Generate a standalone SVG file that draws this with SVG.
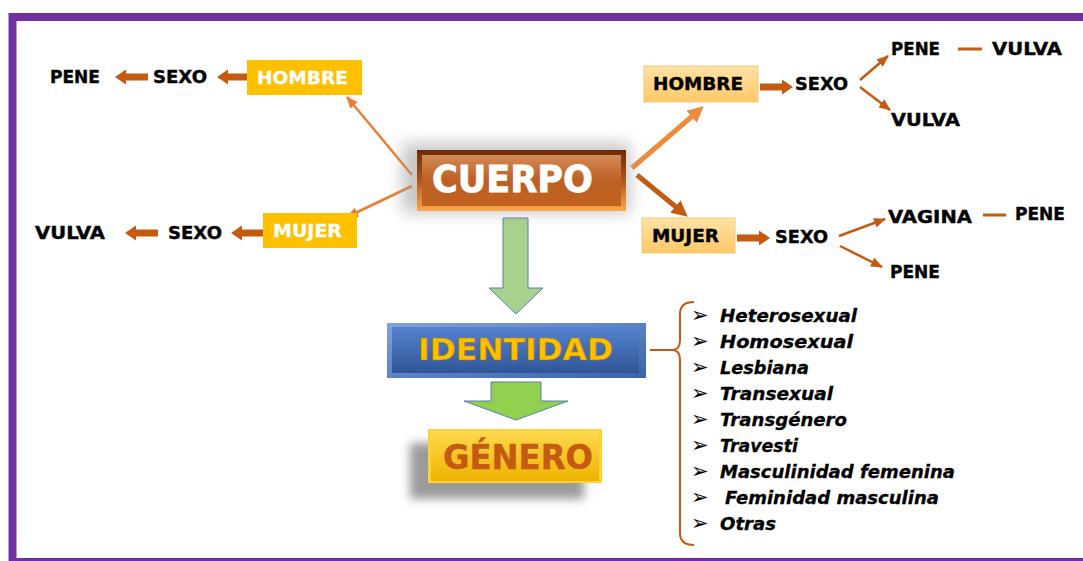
<svg xmlns="http://www.w3.org/2000/svg" xmlns:xlink="http://www.w3.org/1999/xlink" width="1083" height="561" viewBox="0 0 1083 561">
<style>
.lbl{font-family:"DejaVu Sans","Liberation Sans",sans-serif;font-weight:bold;font-size:18px;fill:#000;stroke:#000;stroke-width:0.4}
.wlbl{font-family:"DejaVu Sans","Liberation Sans",sans-serif;font-weight:bold;font-size:18px;fill:#fff;stroke:#fff;stroke-width:0.3}
.item{font-family:"DejaVu Sans","Liberation Sans",sans-serif;font-weight:bold;font-style:italic;font-size:18px;fill:#000;stroke:#000;stroke-width:0.3}
.bul{font-family:"DejaVu Sans",sans-serif;font-size:21px;fill:#000}
.thinO{stroke:#ED7D31;stroke-width:2.5;fill:none;marker-end:url(#headO)}
.thinB{stroke:#C55A11;stroke-width:2.5;fill:none;marker-end:url(#headB)}
.dash{stroke:#C55A11;stroke-width:3}
.blk{fill:#C55A11}
</style>
<defs>
<marker id="headO" markerUnits="userSpaceOnUse" markerWidth="12" markerHeight="10" refX="11" refY="5" orient="auto"><path d="M0,0 L12,5 L0,10 z" fill="#ED7D31"/></marker>
<marker id="headB" markerUnits="userSpaceOnUse" markerWidth="12" markerHeight="10" refX="11" refY="5" orient="auto"><path d="M0,0 L12,5 L0,10 z" fill="#C55A11"/></marker>
<marker id="bigO" markerUnits="userSpaceOnUse" markerWidth="16" markerHeight="16" refX="9" refY="8" orient="auto"><path d="M0,0 L16,8 L0,16 z" fill="#F08A3C"/></marker>
<marker id="bigB" markerUnits="userSpaceOnUse" markerWidth="16" markerHeight="16" refX="9" refY="8" orient="auto"><path d="M0,0 L16,8 L0,16 z" fill="#C55A11"/></marker>
<path id="barr" d="M0,-3.5 H22 V-7.5 L33,0 L22,7.5 V3.5 H0 Z"/>
<linearGradient id="gCuerpoOut" x1="0" y1="0" x2="0" y2="1"><stop offset="0" stop-color="#6A2B08"/><stop offset="0.5" stop-color="#B0561A"/><stop offset="1" stop-color="#FBA94E"/></linearGradient>
<linearGradient id="gCuerpoIn" x1="0" y1="0" x2="0" y2="1"><stop offset="0" stop-color="#D38A55"/><stop offset="0.5" stop-color="#BD6024"/><stop offset="1" stop-color="#C2621F"/></linearGradient>
<linearGradient id="gIdOut" x1="0" y1="0" x2="1" y2="1"><stop offset="0" stop-color="#7EA3DE"/><stop offset="1" stop-color="#3A63A8"/></linearGradient>
<linearGradient id="gIdIn" x1="0" y1="0" x2="0" y2="1"><stop offset="0" stop-color="#5583CF"/><stop offset="1" stop-color="#2F5597"/></linearGradient>
<linearGradient id="gGen" x1="0" y1="0" x2="0" y2="1"><stop offset="0" stop-color="#FFD84E"/><stop offset="1" stop-color="#EDB300"/></linearGradient>
<linearGradient id="gBox" x1="0" y1="0" x2="0" y2="1"><stop offset="0" stop-color="#FFE2A6"/><stop offset="1" stop-color="#FFC868"/></linearGradient>
<filter id="blur8" x="-30%" y="-50%" width="160%" height="200%"><feGaussianBlur stdDeviation="8"/></filter>
<filter id="blur5" x="-30%" y="-50%" width="160%" height="200%"><feGaussianBlur stdDeviation="5"/></filter>
</defs>

<rect x="12.5" y="17" width="1100" height="545" fill="#fff" stroke="#7030A0" stroke-width="8"/>

<g id="connectors">
  <line class="thinO" x1="412" y1="175" x2="347" y2="97"/>
  <line class="thinO" x1="412" y1="186" x2="347" y2="217"/>
  <line x1="632" y1="168" x2="698.4" y2="110.9" stroke="#F08A3C" stroke-width="5" marker-end="url(#bigO)"/>
  <line x1="637" y1="175" x2="682.4" y2="212.2" stroke="#C55A11" stroke-width="5" marker-end="url(#bigB)"/>
  <use href="#barr" class="blk" transform="translate(250,77) scale(-1,1)"/>
  <use href="#barr" class="blk" transform="translate(148,77) scale(-1,1)"/>
  <use href="#barr" class="blk" transform="translate(264,233) scale(-1,1)"/>
  <use href="#barr" class="blk" transform="translate(158,233) scale(-1,1)"/>
  <use href="#barr" class="blk" transform="translate(760,87)"/>
  <use href="#barr" class="blk" transform="translate(737,238)"/>
  <line class="thinB" x1="860" y1="80" x2="888" y2="56"/>
  <line class="thinB" x1="860" y1="87" x2="890" y2="110"/>
  <line class="thinB" x1="839" y1="236" x2="885" y2="219"/>
  <line class="thinB" x1="840" y1="246" x2="882" y2="267"/>
  <line class="dash" x1="958" y1="49" x2="982" y2="49"/>
  <line class="dash" x1="983" y1="215" x2="1006" y2="215"/>
  <polygon points="503,218 528,218 528,288 543,288 516,314 489,288 503,288" fill="#A9D18E" stroke="#5B7DB5" stroke-width="1"/>
  <polygon points="491,382 541,382 541,401 568,401 516,420 464,401 491,401" fill="#92D050" stroke="#5B7DB5" stroke-width="1"/>
  <path d="M650,350 H672 M694,302 Q680,302 680,314 V340 Q680,350 672,350 Q680,350 680,360 V533 Q680,545 694,545" fill="none" stroke="#C55A11" stroke-width="2"/>
</g>

<g id="cuerpo">
  <rect x="402" y="143" width="228" height="70" fill="#9a9a9a" opacity="0.55" filter="url(#blur8)"/>
  <rect x="417" y="150" width="209" height="61" fill="url(#gCuerpoOut)"/>
  <rect x="422" y="155" width="199" height="51" fill="url(#gCuerpoIn)"/>
  <text x="432" y="192" class="wlbl" style="font-size:38px;stroke-width:0.8" textLength="161" lengthAdjust="spacingAndGlyphs">CUERPO</text>
</g>

<g id="hombre-izq">
  <rect x="247" y="60" width="115" height="35" fill="#FFC000"/>
  <text x="257" y="84" class="wlbl" textLength="91" lengthAdjust="spacingAndGlyphs">HOMBRE</text>
</g>
<g id="sexo-izq-1"><text x="153" y="83" class="lbl" textLength="54" lengthAdjust="spacingAndGlyphs">SEXO</text></g>
<g id="pene-izq"><text x="50" y="83" class="lbl" textLength="50" lengthAdjust="spacingAndGlyphs">PENE</text></g>

<g id="mujer-izq">
  <rect x="263" y="213" width="94" height="35" fill="#FFC000"/>
  <text x="273" y="237" class="wlbl" textLength="69" lengthAdjust="spacingAndGlyphs">MUJER</text>
</g>
<g id="sexo-izq-2"><text x="168" y="239" class="lbl" textLength="54" lengthAdjust="spacingAndGlyphs">SEXO</text></g>
<g id="vulva-izq"><text x="35" y="239" class="lbl" textLength="70" lengthAdjust="spacingAndGlyphs">VULVA</text></g>

<g id="hombre-der">
  <rect x="644" y="66" width="114" height="36" fill="url(#gBox)" stroke="#F6C97A" stroke-width="1"/>
  <text x="653" y="90" class="lbl" textLength="90" lengthAdjust="spacingAndGlyphs">HOMBRE</text>
</g>
<g id="sexo-der-1"><text x="795" y="90" class="lbl" textLength="53" lengthAdjust="spacingAndGlyphs">SEXO</text></g>
<g id="pene-der-1"><text x="891" y="55" class="lbl" textLength="49" lengthAdjust="spacingAndGlyphs">PENE</text></g>
<g id="vulva-der-1"><text x="992" y="55" class="lbl" textLength="70" lengthAdjust="spacingAndGlyphs">VULVA</text></g>
<g id="vulva-der-2"><text x="891" y="126" class="lbl" textLength="69" lengthAdjust="spacingAndGlyphs">VULVA</text></g>

<g id="mujer-der">
  <rect x="642" y="218" width="93" height="35" fill="url(#gBox)" stroke="#F6C97A" stroke-width="1"/>
  <text x="652" y="242" class="lbl" textLength="67" lengthAdjust="spacingAndGlyphs">MUJER</text>
</g>
<g id="sexo-der-2"><text x="775" y="243" class="lbl" textLength="53" lengthAdjust="spacingAndGlyphs">SEXO</text></g>
<g id="vagina-der"><text x="888" y="223" class="lbl" textLength="84" lengthAdjust="spacingAndGlyphs">VAGINA</text></g>
<g id="pene-der-2"><text x="1015" y="220" class="lbl" textLength="50" lengthAdjust="spacingAndGlyphs">PENE</text></g>
<g id="pene-der-3"><text x="890" y="278" class="lbl" textLength="50" lengthAdjust="spacingAndGlyphs">PENE</text></g>

<g id="identidad">
  <rect x="387" y="323" width="259" height="55" fill="url(#gIdOut)"/>
  <rect x="392" y="327" width="247" height="46" fill="url(#gIdIn)"/>
  <text x="418" y="360" textLength="195" lengthAdjust="spacingAndGlyphs" style="font-family:'DejaVu Sans','Liberation Sans',sans-serif;font-weight:bold;font-size:30px;fill:#FFC000;stroke:#B07A00;stroke-width:0.6">IDENTIDAD</text>
</g>

<g id="genero">
  <rect x="410" y="443" width="174" height="56" fill="#7a7a7a" opacity="0.75" filter="url(#blur5)"/>
  <rect x="428" y="429" width="174" height="54" fill="#FFD23A"/>
  <rect x="431" y="431" width="168" height="50" fill="url(#gGen)"/>
  <text x="443" y="469" textLength="150" lengthAdjust="spacingAndGlyphs" style="font-family:'DejaVu Sans','Liberation Sans',sans-serif;font-weight:bold;font-size:33px;fill:#C55A11;stroke:#C55A11;stroke-width:0.4">GÉNERO</text>
</g>

<g id="lista">
  <text x="691" y="322" class="bul">➢</text><text x="720" y="322" class="item" textLength="137" lengthAdjust="spacingAndGlyphs">Heterosexual</text>
  <text x="691" y="348" class="bul">➢</text><text x="720" y="348" class="item" textLength="133" lengthAdjust="spacingAndGlyphs">Homosexual</text>
  <text x="691" y="374" class="bul">➢</text><text x="720" y="374" class="item" textLength="89" lengthAdjust="spacingAndGlyphs">Lesbiana</text>
  <text x="691" y="400" class="bul">➢</text><text x="720" y="400" class="item" textLength="113" lengthAdjust="spacingAndGlyphs">Transexual</text>
  <text x="691" y="426" class="bul">➢</text><text x="720" y="426" class="item" textLength="127" lengthAdjust="spacingAndGlyphs">Transgénero</text>
  <text x="691" y="452" class="bul">➢</text><text x="720" y="452" class="item" textLength="78" lengthAdjust="spacingAndGlyphs">Travesti</text>
  <text x="691" y="478" class="bul">➢</text><text x="720" y="478" class="item" textLength="235" lengthAdjust="spacingAndGlyphs">Masculinidad femenina</text>
  <text x="691" y="504" class="bul">➢</text><text x="725" y="504" class="item" textLength="214" lengthAdjust="spacingAndGlyphs">Feminidad masculina</text>
  <text x="691" y="530" class="bul">➢</text><text x="720" y="530" class="item" textLength="56" lengthAdjust="spacingAndGlyphs">Otras</text>
</g>
</svg>
